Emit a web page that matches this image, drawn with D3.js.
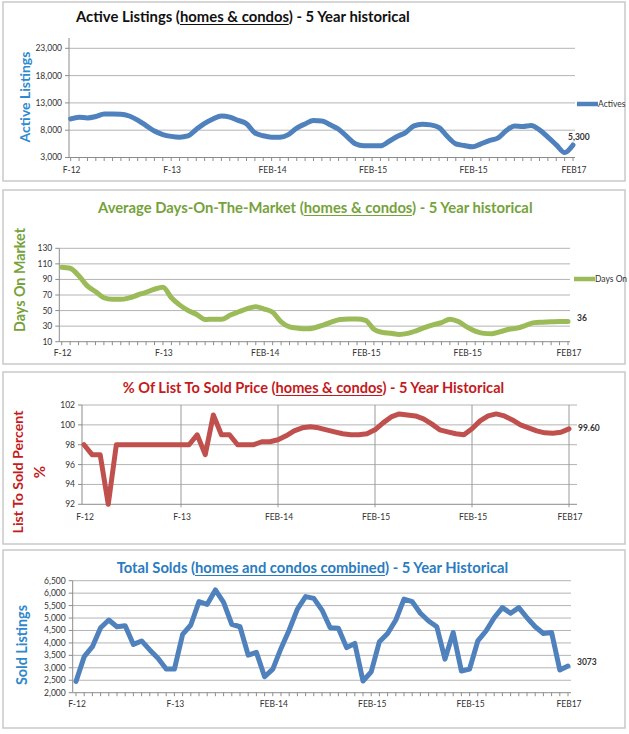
<!DOCTYPE html>
<html>
<head>
<meta charset="utf-8">
<script src="https://cdn.jsdelivr.net/npm/d3@7"></script>
<style>
  body { margin: 0; background: #fff; }
  svg { display: block; }
  text { font-family: Lato, "Open Sans", sans-serif; }
</style>
</head>
<body>
<div id="chart"></div>
<script>
// x axis: monthly points Feb 2012 .. Feb 2017, labelled once a year
const xLabels = ["F-12", "F-13", "FEB-14", "FEB-15", "FEB-15", "FEB17"];
const xLabelAt = [0, 12, 24, 36, 48, 60];

const actives = [10070, 10380, 10250, 10500, 10950, 10950, 10930, 10600, 9850, 8850,
  7850, 7200, 6870, 6720, 6950, 8150, 9250, 10050, 10600, 10400,
  9800, 9200, 7500, 6980, 6720, 6720, 7200, 8400, 9150, 9770,
  9700, 8980, 8180, 6840, 5500, 5130, 5130, 5130, 5930, 6840,
  7570, 8790, 9100, 8980, 8490, 6840, 5500, 5200, 4950, 5500,
  6110, 6540, 7880, 8790, 8670, 8850, 8060, 6720, 5320, 3910, 5300];
const activesTicks = [3000, 8000, 13000, 18000, 23000];

const daysOn = [105.6, 104.3, 95, 82, 74.5, 66.5, 64.5, 64.4, 66.4, 70,
  73.5, 77.5, 79.9, 66.5, 57, 50, 45, 38.5, 39, 39,
  44.3, 48.5, 52.5, 55, 52, 47.7, 35.5, 29, 27.3, 26.5,
  28, 31.4, 35.5, 38.5, 39.1, 39.1, 37.5, 26, 22, 20.8,
  19.4, 20.7, 24, 28, 31.5, 34.5, 39, 36, 29, 23.5,
  20.7, 20.3, 22.9, 26, 27.5, 31, 34.5, 35, 35.5, 36, 36];
const daysTicks = [10, 30, 50, 70, 90, 110, 130];

const listToSold = [98, 97, 97, 92, 98, 98, 98, 98, 98, 98,
  98, 98, 98, 98, 99, 97, 101, 99, 99, 98,
  98, 98, 98.3, 98.3, 98.5, 98.9, 99.4, 99.7, 99.8, 99.7,
  99.5, 99.3, 99.1, 99.0, 99.0, 99.1, 99.5, 100.2, 100.8, 101.1,
  101.0, 100.9, 100.6, 100.1, 99.5, 99.3, 99.1, 99.0, 99.6, 100.4,
  100.9, 101.1, 100.9, 100.5, 100.0, 99.7, 99.4, 99.2, 99.15, 99.25, 99.6];
const pctTicks = [92, 94, 96, 98, 100, 102];

const solds = [2450, 3450, 3850, 4610, 4920, 4650, 4690, 3940, 4080, 3720,
  3380, 2950, 2950, 4340, 4720, 5660, 5550, 6130, 5630, 4750,
  4650, 3510, 3620, 2640, 2950, 3780, 4520, 5360, 5860, 5790,
  5320, 4610, 4590, 3810, 3980, 2470, 2840, 4050, 4380, 4920,
  5760, 5660, 5190, 4880, 4650, 3350, 4420, 2870, 2950, 4080,
  4480, 5010, 5420, 5190, 5420, 5010, 4650, 4380, 4420, 2910, 3073];
const soldTicks = [2000, 2500, 3000, 3500, 4000, 4500, 5000, 5500, 6000, 6500];

const W = 629, H = 734;
const svg = d3.select("#chart").append("svg").attr("width", W).attr("height", H);

const panels = [
  {
    values: actives, ticks: activesTicks, fmt: d3.format(","),
    box: [3, 2, 625, 181], axisX: 69, x0: 70.7, x1: 573, gridRight: 575,
    yBottom: 157.5, yTop: 48.3, axisTop: 38,
    color: "#4f81bd", curve: d3.curveMonotoneX, minorTicks: true, vGrid: false,
    title: ["Active Listings (", "homes & condos", ") - 5 Year historical"],
    titleX: 76, titleY: 22, titleW: 334, titleColor: "#111",
    yTitle: ["Active Listings"], yTitleX: [25], yTitleY: 97, yTitleLen: 91, yTitleColor: "#2e8ad0",
    xLabelY: 173, end: { text: "5,300", x: 568, y: 140 },
    legend: { text: "Actives", x: 577, y: 104 }
  },
  {
    values: daysOn, ticks: daysTicks, fmt: d3.format("d"),
    box: [3, 190, 625, 364], axisX: 59.3, x0: 61.7, x1: 568, gridRight: 570,
    yBottom: 341.7, yTop: 248.3, axisTop: 248.3,
    color: "#9bbb59", curve: d3.curveMonotoneX, minorTicks: true, vGrid: false,
    title: ["Average Days-On-The-Market (", "homes & condos", ") - 5 Year historical"],
    titleX: 98, titleY: 213, titleW: 435, titleColor: "#76a23b",
    yTitle: ["Days On Market"], yTitleX: [20], yTitleY: 280, yTitleLen: 104, yTitleColor: "#76a23b",
    xLabelY: 356, end: { text: "36", x: 577, y: 321 },
    legend: { text: "Days On", x: 574, y: 279 }
  },
  {
    values: listToSold, ticks: pctTicks, fmt: d3.format("d"),
    box: [3, 372, 625, 544], axisX: 82, x0: 84, x1: 569, gridRight: 577,
    yBottom: 504.3, yTop: 405, axisTop: 405,
    color: "#c0504d", curve: d3.curveLinear, minorTicks: false, vGrid: true,
    title: ["% Of List To Sold Price (", "homes & condos", ") - 5 Year Historical"],
    titleX: 122.7, titleY: 393, titleW: 382, titleColor: "#c41a20",
    yTitle: ["List To Sold Percent", "%"], yTitleX: [18.3, 40], yTitleY: 472, yTitleLen: 123, yTitleColor: "#c41a20",
    xLabelY: 520, end: { text: "99.60", x: 578, y: 431 },
    legend: null
  },
  {
    values: solds, ticks: soldTicks, fmt: d3.format(","),
    box: [3, 550, 625, 728], axisX: 72.7, x0: 76, x1: 568, gridRight: 571,
    yBottom: 692.7, yTop: 580.7, axisTop: 580.7,
    color: "#4f81bd", curve: d3.curveLinear, minorTicks: true, vGrid: false,
    title: ["Total Solds (", "homes and condos combined", ") - 5 Year Historical"],
    titleX: 116.7, titleY: 573, titleW: 392, titleColor: "#2a7bc0",
    yTitle: ["Sold Listings"], yTitleX: [21.7], yTitleY: 645, yTitleLen: 80, yTitleColor: "#2f87cc",
    xLabelY: 707, end: { text: "3073", x: 577, y: 665 },
    legend: null
  }
];

// scale a text's font size so it spans the width seen in the picture
function fitText(sel, base, target) {
  sel.attr("font-size", base);
  const len = sel.node().getComputedTextLength();
  sel.attr("font-size", base * target / len);
}

function drawPanel(p) {
  const g = svg.append("g");
  const [bx0, by0, bx1, by1] = p.box;

  g.append("rect")
    .attr("x", bx0).attr("y", by0)
    .attr("width", bx1 - bx0).attr("height", by1 - by0)
    .attr("fill", "#fff").attr("stroke", "#c9c9c9").attr("stroke-width", 1.5);

  const x = d3.scaleLinear().domain([0, p.values.length - 1]).range([p.x0, p.x1]);
  const y = d3.scaleLinear().domain([p.ticks[0], p.ticks[p.ticks.length - 1]]).range([p.yBottom, p.yTop]);

  // horizontal gridlines
  g.selectAll(".grid").data(p.ticks.slice(1)).enter().append("line")
    .attr("x1", p.axisX).attr("x2", p.gridRight)
    .attr("y1", d => y(d)).attr("y2", d => y(d))
    .attr("stroke", "#b4b4b4").attr("stroke-width", 1);

  if (p.vGrid) {
    g.selectAll(".vgrid").data(xLabelAt.slice(1)).enter().append("line")
      .attr("x1", d => x(d)).attr("x2", d => x(d))
      .attr("y1", p.yTop).attr("y2", p.yBottom + 3)
      .attr("stroke", "#9a9a9a").attr("stroke-width", 1);
  }

  // axes
  g.append("line").attr("x1", p.axisX).attr("x2", p.axisX)
    .attr("y1", p.axisTop).attr("y2", p.yBottom)
    .attr("stroke", "#8c8c8c").attr("stroke-width", 1);
  g.append("line").attr("x1", p.axisX).attr("x2", p.gridRight)
    .attr("y1", p.yBottom).attr("y2", p.yBottom)
    .attr("stroke", "#8c8c8c").attr("stroke-width", 1);

  g.selectAll(".ytick").data(p.ticks).enter().append("line")
    .attr("x1", p.axisX - 4).attr("x2", p.axisX)
    .attr("y1", d => y(d)).attr("y2", d => y(d))
    .attr("stroke", "#8c8c8c");

  if (p.minorTicks) {
    g.selectAll(".xtick").data(d3.range(p.values.length)).enter().append("line")
      .attr("x1", d => x(d)).attr("x2", d => x(d))
      .attr("y1", p.yBottom).attr("y2", p.yBottom + 3.5)
      .attr("stroke", "#8c8c8c");
  }

  g.selectAll(".ylab").data(p.ticks).enter().append("text")
    .attr("x", p.axisX - 7).attr("y", d => y(d))
    .attr("dy", "0.35em").attr("text-anchor", "end")
    .attr("font-size", 8.5).attr("fill", "#333")
    .text(p.fmt);

  g.selectAll(".xlab").data(xLabelAt).enter().append("text")
    .attr("x", d => x(d) + 1).attr("y", p.xLabelY)
    .attr("text-anchor", "middle")
    .attr("font-size", 8.5).attr("fill", "#333")
    .text((d, i) => xLabels[i]);

  // series
  const line = d3.line().x((d, i) => x(i)).y(d => y(d)).curve(p.curve);
  g.append("path").datum(p.values)
    .attr("d", line)
    .attr("fill", "none").attr("stroke", p.color)
    .attr("stroke-width", 5).attr("stroke-linejoin", "round").attr("stroke-linecap", "round");

  g.append("text").attr("x", p.end.x).attr("y", p.end.y)
    .attr("font-size", 8.5).attr("font-weight", "bold").attr("fill", "#333")
    .text(p.end.text);

  if (p.legend) {
    g.append("line").attr("x1", p.legend.x).attr("x2", p.legend.x + 21)
      .attr("y1", p.legend.y).attr("y2", p.legend.y)
      .attr("stroke", p.color).attr("stroke-width", 4.5);
    g.append("text").attr("x", p.legend.x + 21).attr("y", p.legend.y)
      .attr("dy", "0.35em").attr("font-size", 8.5).attr("fill", "#333")
      .text(p.legend.text);
  }

  // chart title with underlined middle part
  const title = g.append("text")
    .attr("x", p.titleX).attr("y", p.titleY)
    .attr("font-weight", "bold").attr("fill", p.titleColor)
    .text(p.title.join(""));
  fitText(title, 15, p.titleW);
  const tn = title.node();
  const ux = p.titleX + tn.getSubStringLength(0, p.title[0].length);
  const uw = tn.getSubStringLength(p.title[0].length, p.title[1].length);
  g.append("line").attr("x1", ux).attr("x2", ux + uw)
    .attr("y1", p.titleY + 2.5).attr("y2", p.titleY + 2.5)
    .attr("stroke", p.titleColor).attr("stroke-width", 1.2);

  // rotated axis title
  p.yTitle.forEach((t, i) => {
    const yt = g.append("text")
      .attr("transform", `translate(${p.yTitleX[i]},${p.yTitleY}) rotate(-90)`)
      .attr("text-anchor", "middle").attr("dy", "0.35em")
      .attr("font-weight", "bold").attr("fill", p.yTitleColor)
      .text(t);
    if (i === 0) fitText(yt, 15, p.yTitleLen);
    else yt.attr("font-size", 15);
  });
}

panels.forEach(drawPanel);
</script>
</body>
</html>
